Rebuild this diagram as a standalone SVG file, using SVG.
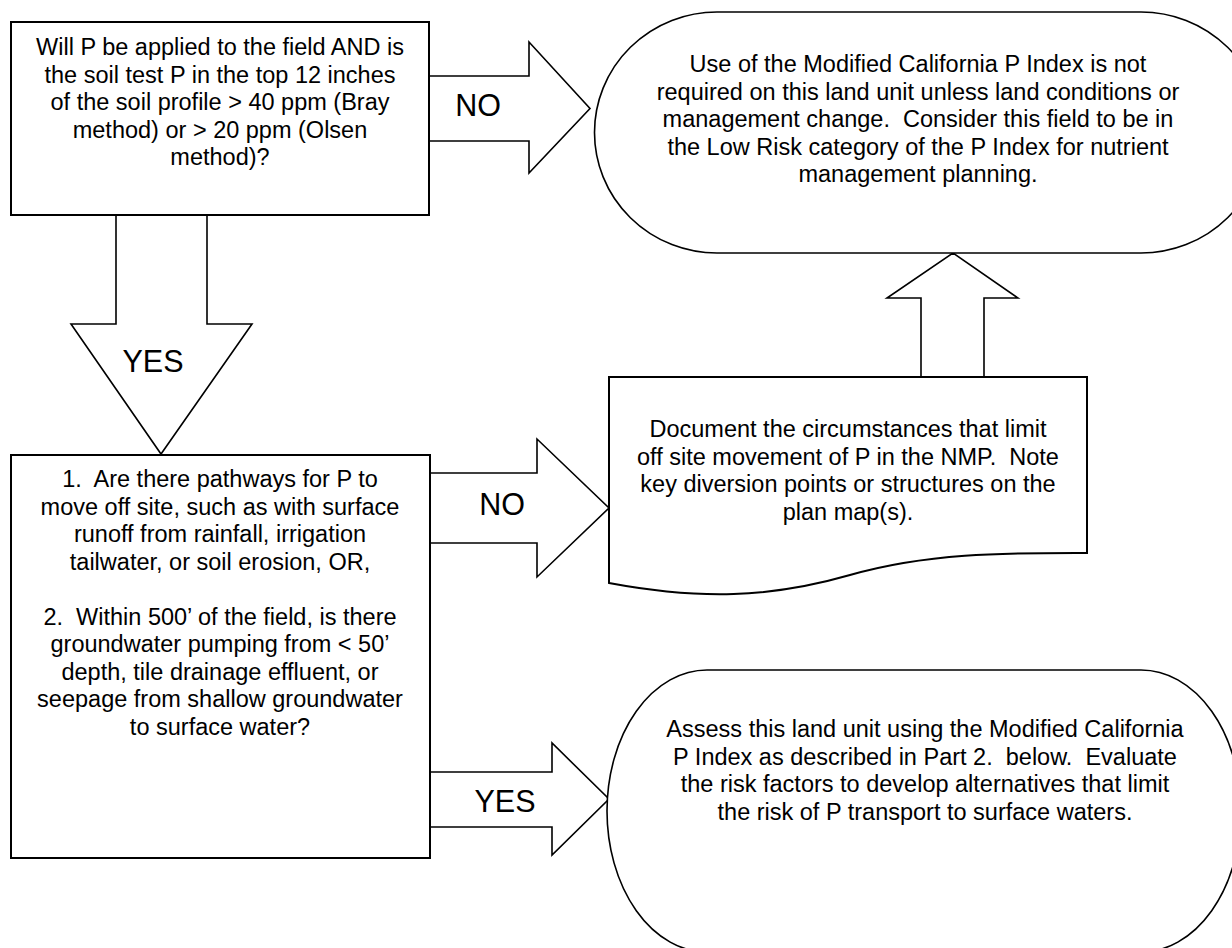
<svg xmlns="http://www.w3.org/2000/svg" width="1232" height="948" viewBox="0 0 1232 948">
<style>
.bg{fill:#ffffff}
.box{fill:#ffffff;stroke:#000000;stroke-width:2}
.term{fill:#ffffff;stroke:#000000;stroke-width:1.6}
.arrow{fill:#ffffff;stroke:#000000;stroke-width:1.6;stroke-linejoin:miter}
.t{font-family:"Liberation Sans",Arial,sans-serif;font-size:23.5px;fill:#000000;text-anchor:middle;white-space:pre}
.lbl{font-family:"Liberation Sans",Arial,sans-serif;font-size:30.5px;fill:#000000;text-anchor:middle}
</style>
<rect class="bg" x="0" y="0" width="1232" height="948"/>
<g id="connectors">
  <g id="arrow-no-1">
    <polygon class="arrow" points="429,76 529,76 529,42 590,108.5 529,173 529,141 429,141"/>
    <text class="lbl" x="478" y="116">NO</text>
  </g>
  <g id="arrow-yes-1">
    <polygon class="arrow" points="116,215 207,215 207,324 252,324 161,454 71,324 116,324"/>
    <text class="lbl" x="153" y="372">YES</text>
  </g>
  <g id="arrow-up">
    <polygon class="arrow" points="921,377 921,298 887,298 953,253 1018,298 984,298 984,377"/>
  </g>
  <g id="arrow-no-2">
    <polygon class="arrow" points="430,473 537,473 537,439 609,508 537,577 537,543 430,543"/>
    <text class="lbl" x="502" y="515">NO</text>
  </g>
  <g id="arrow-yes-2">
    <polygon class="arrow" points="430,772 552,772 552,743 609,799 552,855 552,827 430,827"/>
    <text class="lbl" x="505" y="812">YES</text>
  </g>
</g>
<g id="node-question-1">
  <rect class="box" x="11" y="22" width="418" height="193"/>
  <text class="t" x="220" y="55">Will P be applied to the field AND is</text>
  <text class="t" x="220" y="82.5">the soil test P in the top 12 inches</text>
  <text class="t" x="220" y="110">of the soil profile &gt; 40 ppm (Bray</text>
  <text class="t" x="220" y="137.5">method) or &gt; 20 ppm (Olsen</text>
  <text class="t" x="220" y="165">method)?</text>
</g>
<g id="node-low-risk">
  <path class="term" d="M717,12 H1141 A122.5,120.5 0 0 1 1141,253 H717 A122.5,120.5 0 0 1 717,12 Z"/>
  <text class="t" x="918" y="72">Use of the Modified California P Index is not</text>
  <text class="t" x="918" y="99.5">required on this land unit unless land conditions or</text>
  <text class="t" x="918" y="127">management change.  Consider this field to be in</text>
  <text class="t" x="918" y="154.5">the Low Risk category of the P Index for nutrient</text>
  <text class="t" x="918" y="182">management planning.</text>
</g>
<g id="node-document">
  <path class="box" d="M609,377 H1087 V553 C1010,553 930,552 850,575 C770,598 700,600 609,583 Z"/>
  <text class="t" x="848" y="437">Document the circumstances that limit</text>
  <text class="t" x="848" y="464.5">off site movement of P in the NMP.  Note</text>
  <text class="t" x="848" y="492">key diversion points or structures on the</text>
  <text class="t" x="848" y="519.5">plan map(s).</text>
</g>
<g id="node-question-2">
  <rect class="box" x="11" y="455" width="419" height="403"/>
  <text class="t" x="220" y="487">1.  Are there pathways for P to</text>
  <text class="t" x="220" y="514.5">move off site, such as with surface</text>
  <text class="t" x="220" y="542">runoff from rainfall, irrigation</text>
  <text class="t" x="220" y="569.5">tailwater, or soil erosion, OR,</text>
  <text class="t" x="220" y="624.5">2.  Within 500’ of the field, is there</text>
  <text class="t" x="220" y="652">groundwater pumping from &lt; 50’</text>
  <text class="t" x="220" y="679.5">depth, tile drainage effluent, or</text>
  <text class="t" x="220" y="707">seepage from shallow groundwater</text>
  <text class="t" x="220" y="734.5">to surface water?</text>
</g>
<g id="node-assess">
  <path class="term" d="M707,670 H1141 A100,141 0 0 1 1141,952 H707 A100,141 0 0 1 707,670 Z"/>
  <text class="t" x="925" y="737">Assess this land unit using the Modified California</text>
  <text class="t" x="925" y="764.5">P Index as described in Part 2.  below.  Evaluate</text>
  <text class="t" x="925" y="792">the risk factors to develop alternatives that limit</text>
  <text class="t" x="925" y="819.5">the risk of P transport to surface waters.</text>
</g>
</svg>
